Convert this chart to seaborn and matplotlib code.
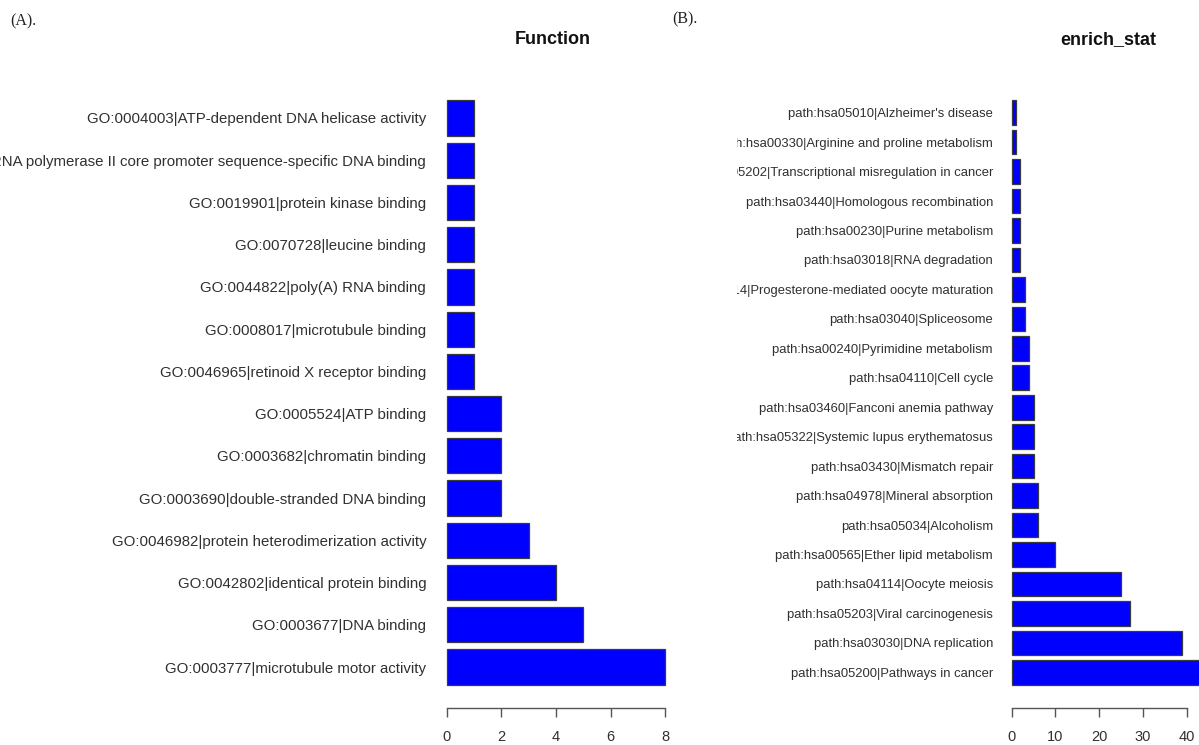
import numpy as np
import pandas as pd
import matplotlib
matplotlib.use("Agg")
import matplotlib.pyplot as plt
from matplotlib.transforms import Bbox
import seaborn as sns

# (A) GO molecular function terms, top to bottom
go_terms = [
    "GO:0004003|ATP-dependent DNA helicase activity",
    "GO:0000979|RNA polymerase II core promoter sequence-specific DNA binding",
    "GO:0019901|protein kinase binding",
    "GO:0070728|leucine binding",
    "GO:0044822|poly(A) RNA binding",
    "GO:0008017|microtubule binding",
    "GO:0046965|retinoid X receptor binding",
    "GO:0005524|ATP binding",
    "GO:0003682|chromatin binding",
    "GO:0003690|double-stranded DNA binding",
    "GO:0046982|protein heterodimerization activity",
    "GO:0042802|identical protein binding",
    "GO:0003677|DNA binding",
    "GO:0003777|microtubule motor activity",
]
go_counts = [1, 1, 1, 1, 1, 1, 1, 2, 2, 2, 3, 4, 5, 8]

# (B) KEGG pathways, top to bottom
kegg_terms = [
    "path:hsa05010|Alzheimer's disease",
    "path:hsa00330|Arginine and proline metabolism",
    "path:hsa05202|Transcriptional misregulation in cancer",
    "path:hsa03440|Homologous recombination",
    "path:hsa00230|Purine metabolism",
    "path:hsa03018|RNA degradation",
    "path:hsa04914|Progesterone-mediated oocyte maturation",
    "path:hsa03040|Spliceosome",
    "path:hsa00240|Pyrimidine metabolism",
    "path:hsa04110|Cell cycle",
    "path:hsa03460|Fanconi anemia pathway",
    "path:hsa05322|Systemic lupus erythematosus",
    "path:hsa03430|Mismatch repair",
    "path:hsa04978|Mineral absorption",
    "path:hsa05034|Alcoholism",
    "path:hsa00565|Ether lipid metabolism",
    "path:hsa04114|Oocyte meiosis",
    "path:hsa05203|Viral carcinogenesis",
    "path:hsa03030|DNA replication",
    "path:hsa05200|Pathways in cancer",
]
kegg_counts = [1, 1, 2, 2, 2, 2, 3, 3, 4, 4, 5, 5, 5, 6, 6, 10, 25, 27, 39, 44]

go_ticks = [0, 2, 4, 6, 8]
kegg_ticks = [0, 10, 20, 30, 40]

BAR_COLOR = '#0000ff'
EDGE_COLOR = '#3a3a3a'
TEXT_COLOR = '#303030'
AXIS_COLOR = '#555555'

sns.set_style("white")
plt.rcParams['font.family'] = ['Liberation Sans', 'DejaVu Sans']

W, H = 1199, 745
fig = plt.figure(figsize=(W / 100, H / 100), dpi=100)


def r_style_barh(ax, terms, counts, ticks, ylab_size, pad):
    df = pd.DataFrame({'term': terms, 'count': counts})
    sns.barplot(ax=ax, data=df, x='count', y='term', orient='h', color=BAR_COLOR,
                saturation=1, width=1 / 1.2, edgecolor=EDGE_COLOR, linewidth=0.9)
    ax.set_xlabel('')
    ax.set_ylabel('')
    for s in ['top', 'right', 'left']:
        ax.spines[s].set_visible(False)
    ax.spines['bottom'].set_bounds(ticks[0], ticks[-1])
    ax.spines['bottom'].set_color(AXIS_COLOR)
    ax.spines['bottom'].set_linewidth(1.0)
    ax.set_xticks(ticks)
    ax.set_xticklabels([str(t) for t in ticks])
    ax.tick_params(axis='x', bottom=True, direction='out', length=6.5, width=1.0,
                   color=AXIS_COLOR, labelsize=10.5, labelcolor=TEXT_COLOR, pad=9)
    ax.tick_params(axis='y', left=False, length=0, labelsize=ylab_size,
                   labelcolor=TEXT_COLOR, pad=pad)
    ax.set_facecolor('none')
    ax.grid(False)


# left panel: plot region in pixels -> figure fraction
n_go = len(go_terms)
ax1 = fig.add_axes([438 / W, (H - 708) / H, 236 / W, 631 / H])
r_style_barh(ax1, go_terms, go_counts, go_ticks, 10.85, 8.5)
ax1.set_xlim(-0.32, 8.32)
ext = 0.04 * (n_go * 1.2 - 0.2) / 1.2
ax1.set_ylim(n_go - 1 + 0.4167 + ext, -0.4167 - ext)

n_kg = len(kegg_terms)
ax2 = fig.add_axes([1004 / W, (H - 708) / H, 195 / W, 631 / H])
r_style_barh(ax2, kegg_terms, kegg_counts, kegg_ticks, 9.4, 8)
ax2.set_xlim(-1.76, 42.8)
ext = 0.04 * (n_kg * 1.2 - 0.2) / 1.2
ax2.set_ylim(n_kg - 1 + 0.4167 + ext, -0.4167 - ext)

# the (B) panel's labels are cut where that panel begins
clip = Bbox.from_extents(737, 0, W, H)
for lab in ax2.get_yticklabels():
    lab.set_clip_on(True)
    lab.set_clip_box(clip)

# titles and panel tags
fig.text(553 / W, 1 - 40 / H, 'Function', ha='center', va='center',
         fontsize=13, fontweight='bold', color='#111111')
fig.text(1108 / W, 1 - 40 / H, 'enrich_stat', ha='center', va='center',
         fontsize=13, fontweight='bold', color='#111111')
fig.text(10 / W, 1 - 21 / H, '(A).', ha='left', va='center', fontsize=11.5,
         family=['Liberation Serif', 'DejaVu Serif'], color='#222222')
fig.text(672 / W, 1 - 19 / H, '(B).', ha='left', va='center', fontsize=11.5,
         family=['Liberation Serif', 'DejaVu Serif'], color='#222222')

fig.savefig('out.png', dpi=100, facecolor='white')
